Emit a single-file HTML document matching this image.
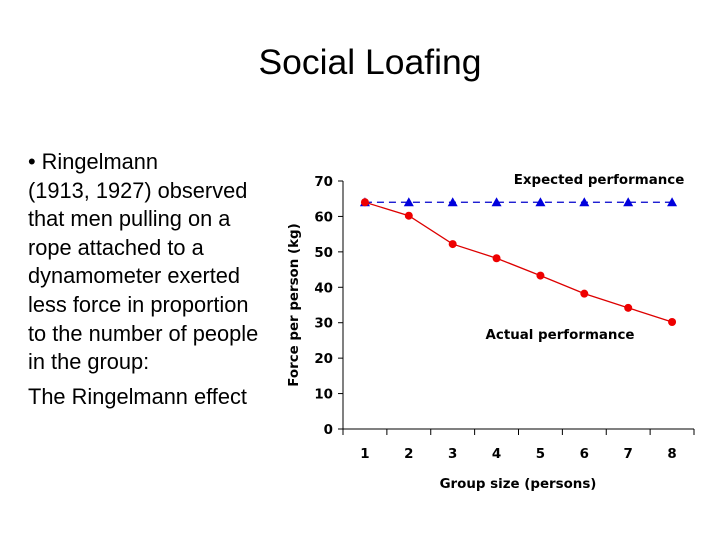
<!DOCTYPE html>
<html><head><meta charset="utf-8"><style>
body{margin:0;width:728px;height:546px;background:#fff;position:relative;overflow:hidden;font-family:"Liberation Sans",sans-serif}
#title{position:absolute;left:0;width:740px;top:42px;text-align:center;font-size:35.5px;color:#000}
#body{position:absolute;left:28px;top:148px;font-size:21.8px;line-height:28.6px;color:#000;width:270px;white-space:nowrap}
svg{position:absolute;left:0;top:0}
svg text{font-family:"DejaVu Sans","Liberation Sans",sans-serif;font-weight:bold;font-size:13.4px;fill:#000}
</style></head><body>
<div id="title">Social Loafing</div>
<div id="body">• Ringelmann<br>(1913, 1927) observed<br>that men pulling on a<br>rope attached to a<br>dynamometer exerted<br>less force in proportion<br>to the number of people<br>in the group:<div style="margin-top:6px">The Ringelmann effect</div></div>
<svg id="chart" width="728" height="546"></svg>
<script>
const categories=["1","2","3","4","5","6","7","8"];
const actual=[64,60.2,52.2,48.2,43.3,38.2,34.2,30.2];
const expected=[64,64,64,64,64,64,64,64];
const yTicks=[0,10,20,30,40,50,60,70];
const NS="http://www.w3.org/2000/svg";
const svg=document.getElementById('chart');
const x0=343,x1=694,y0=429,y70=181;
const bw=(x1-x0)/categories.length;
const X=i=>x0+bw*(i+0.5);
const Y=v=>y0-(v/70)*(y0-y70);
function mk(t,a){const e=document.createElementNS(NS,t);for(const k in a)e.setAttribute(k,a[k]);svg.appendChild(e);return e;}
let e=mk('line',{x1:x0,y1:y70,x2:x0,y2:y0,stroke:'#000','stroke-width':1});


e=mk('line',{x1:x0,y1:y0,x2:x1,y2:y0,stroke:'#000','stroke-width':1});


yTicks.forEach(v=>{
 mk('line',{x1:x0-5,y1:Y(v),x2:x0,y2:Y(v),stroke:'#000'});
 const t=mk('text',{x:x0-10,y:Y(v)+5,'text-anchor':'end'});t.textContent=v;
 
 
});
for(let i=0;i<=categories.length;i++)mk('line',{x1:x0+bw*i,y1:y0,x2:x0+bw*i,y2:y0+6,stroke:'#000'});
categories.forEach((c,i)=>{const t=mk('text',{x:X(i),y:458,'text-anchor':'middle'});t.textContent=c;
 
 });
let t=mk('text',{x:518,y:488,'text-anchor':'middle'});t.textContent='Group size (persons)';


t=mk('text',{x:298,y:305,'text-anchor':'middle',transform:'rotate(-90 298 305)'});t.textContent='Force per person (kg)';


e=mk('polyline',{points:expected.map((v,i)=>X(i)+','+Y(v)).join(' '),fill:'none',stroke:'#0000cc','stroke-width':1.3,'stroke-dasharray':'7,5'});


e=mk('polyline',{points:actual.map((v,i)=>X(i)+','+Y(v)).join(' '),fill:'none',stroke:'#dd0000','stroke-width':1.3});


expected.forEach((v,i)=>{const x=X(i),y=Y(v);
 const p=mk('polygon',{points:`${x},${y-5} ${x-5},${y+4} ${x+5},${y+4}`,fill:'#0000dd'});
 
 });
actual.forEach((v,i)=>{const c=mk('circle',{cx:X(i),cy:Y(v),r:4,fill:'#ee0000'});
 
 });
t=mk('text',{x:599,y:184,'text-anchor':'middle'});t.textContent='Expected performance';


t=mk('text',{x:560,y:339,'text-anchor':'middle'});t.textContent='Actual performance';


</script>
</body></html>
